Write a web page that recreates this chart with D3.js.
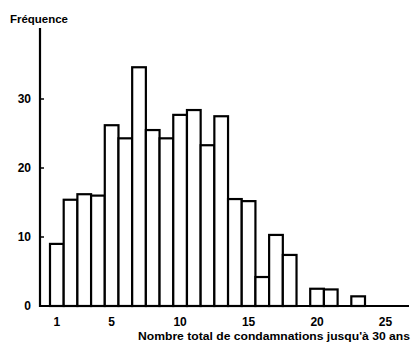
<!DOCTYPE html>
<html><head><meta charset="utf-8">
<script src="https://cdn.jsdelivr.net/npm/d3@7/dist/d3.min.js"></script>
<style>body{margin:0;background:#fff}svg{display:block}text{font-family:"Liberation Sans",Arial,sans-serif;font-weight:bold;fill:#000}</style>
</head><body>
<script>
const categories = [1,2,3,4,5,6,7,8,9,10,11,12,13,14,15,16,17,18,19,20,21,22,23];
const frequencies = [9,15.4,16.2,16,26.2,24.3,34.6,25.5,24.3,27.7,28.4,23.3,27.5,15.5,15.2,4.2,10.3,7.4,0,2.5,2.4,0,1.4];
const xTicks = [1,5,10,15,20,25];
const yTicks = [0,10,20,30];
const yTitle = "Fréquence";
const xTitle = "Nombre total de condamnations jusqu'à 30 ans";

const W=416,H=346;
const svg=d3.select("body").append("svg").attr("width",W).attr("height",H);
const x=d3.scaleLinear().domain([0.5,23.5]).range([50,365]);
const y=d3.scaleLinear().domain([0,30]).range([306,99]);
const x0=40;

// bars
svg.append("g").selectAll("rect").data(categories.map((c,i)=>({c,v:frequencies[i]})).filter(d=>d.v>0))
 .join("rect")
 .attr("x",d=>x(d.c-0.5)).attr("width",d=>x(d.c+0.5)-x(d.c-0.5))
 .attr("y",d=>y(d.v)).attr("height",d=>y(0)-y(d.v))
 .attr("fill","#fff").attr("stroke","#000").attr("stroke-width",2.2);

// x baseline
svg.append("line").attr("x1",x0).attr("x2",409).attr("y1",y(0)).attr("y2",y(0)).attr("stroke","#000").attr("stroke-width",2.2);
// y axis
svg.append("line").attr("x1",x0).attr("x2",x0).attr("y1",28).attr("y2",y(0)+1).attr("stroke","#000").attr("stroke-width",2.2);

// y ticks
const yg=svg.append("g");
yg.selectAll("line").data(yTicks.filter(t=>t>0)).join("line")
 .attr("x1",x0).attr("x2",x0+4).attr("y1",d=>y(d)).attr("y2",d=>y(d)).attr("stroke","#000").attr("stroke-width",1.5);
yg.selectAll("text").data(yTicks).join("text")
 .attr("x",31).attr("y",d=>y(d)).attr("dy","0.36em").attr("text-anchor","end")
 .attr("font-size",12).text(d=>d);

// x tick labels
svg.append("g").selectAll("text").data(xTicks).join("text")
 .attr("x",d=>x(d)).attr("y",322).attr("dy","0.36em").attr("text-anchor","middle")
 .attr("font-size",12).text(d=>d);

svg.append("text").attr("x",10).attr("y",19).attr("dy","0.36em").attr("font-size",11)
 .attr("textLength",58).attr("lengthAdjust","spacingAndGlyphs").text(yTitle);
svg.append("text").attr("x",138).attr("y",336).attr("dy","0.36em").attr("font-size",11)
 .attr("textLength",272).attr("lengthAdjust","spacingAndGlyphs").text(xTitle);
</script>
</body></html>
